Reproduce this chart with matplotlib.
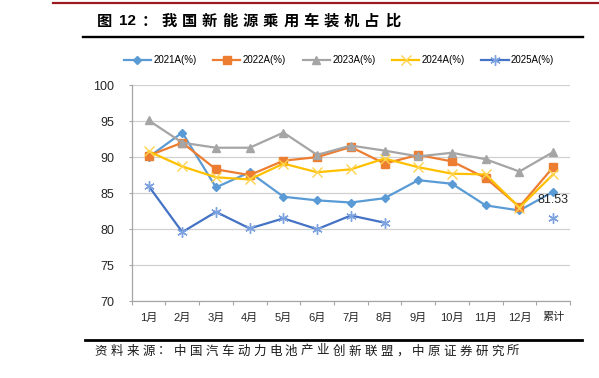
import numpy as np
import matplotlib
matplotlib.use('Agg')
import matplotlib.pyplot as plt
from matplotlib.lines import Line2D

plt.rcParams['font.family'] = ['Liberation Sans', 'Noto Sans CJK SC']

categories = ['1月', '2月', '3月', '4月', '5月', '6月', '7月', '8月',
              '9月', '10月', '11月', '12月', '累计']

y2021 = [90.0, 93.4, 85.8, 87.9, 84.5, 84.0, 83.7, 84.3, 86.8, 86.3, 83.3, 82.6, 85.2]
y2022 = [90.2, 92.0, 88.3, 87.5, 89.5, 90.0, 91.4, 89.1, 90.3, 89.4, 87.1, 83.1, 88.6]
y2023 = [95.1, 92.0, 91.3, 91.3, 93.4, 90.3, 91.6, 90.9, 90.1, 90.6, 89.7, 88.0, 90.7]
y2024 = [90.8, 88.7, 87.2, 86.9, 89.1, 87.9, 88.3, 89.8, 88.6, 87.7, 87.6, 83.0, 87.6]
y2025 = [86.0, 79.6, 82.4, 80.1, 81.5, 80.0, 81.9, 80.9,
         np.nan, np.nan, np.nan, np.nan, 81.53]

series = [
    ('2021A(%)', y2021, '#5B9BD5', 'D', '#5B9BD5', 4.5),
    ('2022A(%)', y2022, '#ED7D31', 's', '#ED7D31', 5.5),
    ('2023A(%)', y2023, '#A5A5A5', '^', '#A5A5A5', 6),
    ('2024A(%)', y2024, '#FFC000', 'x', '#FFD34D', 7),
    ('2025A(%)', y2025, '#4472C4', (6, 2, 0), '#7DA2E0', 7.5),
]

W, H = 599, 378
fig = plt.figure(figsize=(W / 100, H / 100), dpi=100)


def fx(px):
    return px / W


def fy(py):
    return 1 - py / H


ax = fig.add_axes([fx(131.7), fy(301.3), fx(570) - fx(131.7), fy(85) - fy(301.3)])

x = np.arange(len(categories))
handles = []
for label, vals, color, marker, mcolor, ms in series:
    ln, = ax.plot(x, vals, color=color, lw=1.6, marker=marker, markersize=ms,
                  markerfacecolor=mcolor, markeredgecolor=mcolor,
                  markeredgewidth=1.0, label=label, zorder=3)
    handles.append(ln)

ax.annotate(f'{y2025[-1]:.2f}', xy=(x[-1], y2025[-1]), xytext=(0, 13),
            textcoords='offset points', ha='center', va='center',
            fontsize=9, color='#262626')

ax.set_xlim(-0.5, len(categories) - 0.5)
ax.set_ylim(70, 100)
ax.set_yticks(range(70, 101, 5))
ax.set_xticks(x)
ax.set_xticklabels(categories)
ax.set_xticks(np.arange(-0.5, len(categories), 1), minor=True)
ax.tick_params(axis='x', which='major', length=0, pad=8, labelsize=8, colors='#262626')
ax.tick_params(axis='x', which='minor', length=3, color='#A6A6A6', width=0.8)
ax.tick_params(axis='y', length=2.5, pad=10, labelsize=9, color='#A6A6A6', labelcolor='#262626')
ax.grid(axis='y', color='#D0D0D0', lw=0.9)
ax.set_axisbelow(True)
for s in ['top', 'right']:
    ax.spines[s].set_visible(False)
for s in ['left', 'bottom']:
    ax.spines[s].set_color('#A6A6A6')
    ax.spines[s].set_linewidth(0.9)

fig.legend(handles=handles, loc='center', bbox_to_anchor=(fx(339), fy(60)),
           ncol=5, frameon=False, fontsize=7, handlelength=2.8,
           handletextpad=0.25, columnspacing=1.7)

# frame lines
fig.add_artist(Line2D([fx(53), 1], [fy(2.5)] * 2, color='#9B1B1F', lw=1.6))
fig.add_artist(Line2D([fx(83), fx(583)], [fy(36.5)] * 2, color='black', lw=1.7))
fig.add_artist(Line2D([fx(85), fx(582)], [fy(340)] * 2, color='black', lw=2.0))

# title, drawn char by char to keep the wide spacing
fig.text(fx(105), fy(21), '图', fontsize=11, fontweight='bold', ha='center', va='center',
         family=['Noto Sans CJK SC'])
fig.text(fx(127), fy(21), '12', fontsize=11, fontweight='bold', ha='center', va='center')
fig.text(fx(149), fy(21), '：', fontsize=11, fontweight='bold', ha='center', va='center',
         family=['Noto Sans CJK SC'])
title = '我国新能源乘用车装机占比'
for i, ch in enumerate(title):
    fig.text(fx(169 + i * 20.3), fy(21), ch, fontsize=11, fontweight='bold',
             ha='center', va='center', family=['Noto Sans CJK SC'])

source = '资料来源：中国汽车动力电池产业创新联盟，中原证券研究所'
for i, ch in enumerate(source):
    fig.text(fx(101 + i * 15.85), fy(351), ch, fontsize=9, ha='center', va='center',
             family=['Noto Sans CJK SC'], color='#1a1a1a')

fig.savefig('out.png', dpi=100)
